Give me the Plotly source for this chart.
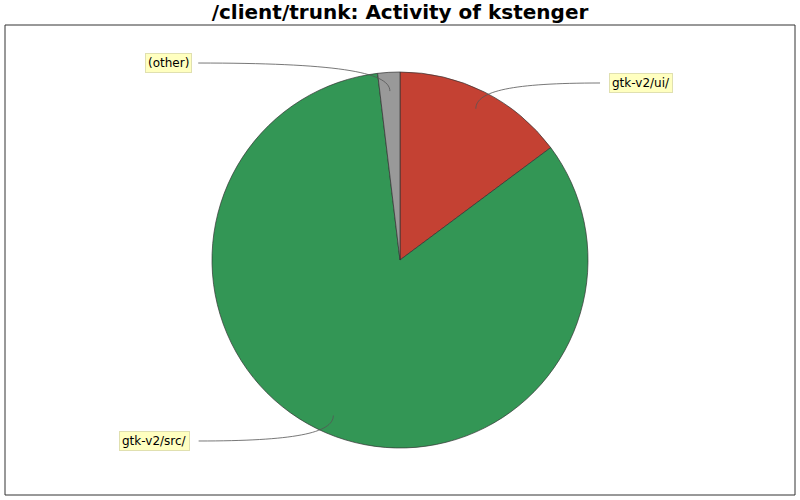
import math
import plotly.graph_objects as go

# Data
labels = ['gtk-v2/ui/', 'gtk-v2/src/', '(other)']
values = [14.8, 83.3, 1.9]
colors = ['#c44133', '#339655', '#999999']

# where the callout boxes sit (pixels)
label_pos = {'gtk-v2/ui/': (641, 83), 'gtk-v2/src/': (154, 441), '(other)': (168, 63)}

W, H = 800, 500
L, R, T, B = 5, 5, 25, 5
CX, CY, RAD = 400, 260, 188


def to_paper(px, py):
    return (px - L) / (W - L - R), (H - B - py) / (H - T - B)


fig = go.Figure(go.Pie(
    labels=labels,
    values=values,
    marker=dict(colors=colors, line=dict(color='#333333', width=0.7)),
    sort=False,
    direction='clockwise',
    rotation=0,
    textinfo='none',
    hoverinfo='label+value',
    domain=dict(x=[0, 1], y=[0.1, 0.9]),
))

shapes = [dict(type='rect', xref='paper', yref='paper', x0=0, y0=0, x1=1, y1=1,
               line=dict(color='#333333', width=1))]
annotations = []

total = sum(values)
start = 0.0
for lab, v in zip(labels, values):
    mid = (start + v / 2) / total * 2 * math.pi
    start += v
    ax = CX + 0.9 * RAD * math.sin(mid)
    ay = CY - 0.9 * RAD * math.cos(mid)
    lx, ly = label_pos[lab]
    half = 3.6 * len(lab) + 5
    ex = lx + half if ax > lx else lx - half
    # curved leader line
    c1x = ex + (ax - ex) * 0.7
    c1y = ly
    c2x = ax
    c2y = ly + (ay - ly) * 0.3
    pts = [to_paper(ex, ly), to_paper(c1x, c1y), to_paper(c2x, c2y), to_paper(ax, ay)]
    path = 'M {:.4f},{:.4f} C {:.4f},{:.4f} {:.4f},{:.4f} {:.4f},{:.4f}'.format(
        *[c for p in pts for c in p])
    shapes.append(dict(type='path', xref='paper', yref='paper', path=path,
                       line=dict(color='#555555', width=0.8)))
    px, py = to_paper(lx, ly)
    annotations.append(dict(x=px, y=py, xref='paper', yref='paper', text=lab,
                            xanchor='center', yanchor='middle',
                            showarrow=False, bgcolor='#ffffc0', bordercolor='#e0e0b0',
                            borderwidth=1, borderpad=2,
                            font=dict(family='DejaVu Sans', size=12, color='#000000')))

fig.update_layout(
    title=dict(text='<b>/client/trunk: Activity of kstenger</b>', x=0.5, xanchor='center',
               y=0.99, yanchor='top',
               font=dict(family='DejaVu Sans', size=20, color='#000000')),
    width=W, height=H,
    margin=dict(l=L, r=R, t=T, b=B),
    paper_bgcolor='white',
    plot_bgcolor='white',
    showlegend=False,
    shapes=shapes,
    annotations=annotations,
)

fig.write_html("out.html", config={'displayModeBar': False},
               post_script="document.body.style.margin='0';")
